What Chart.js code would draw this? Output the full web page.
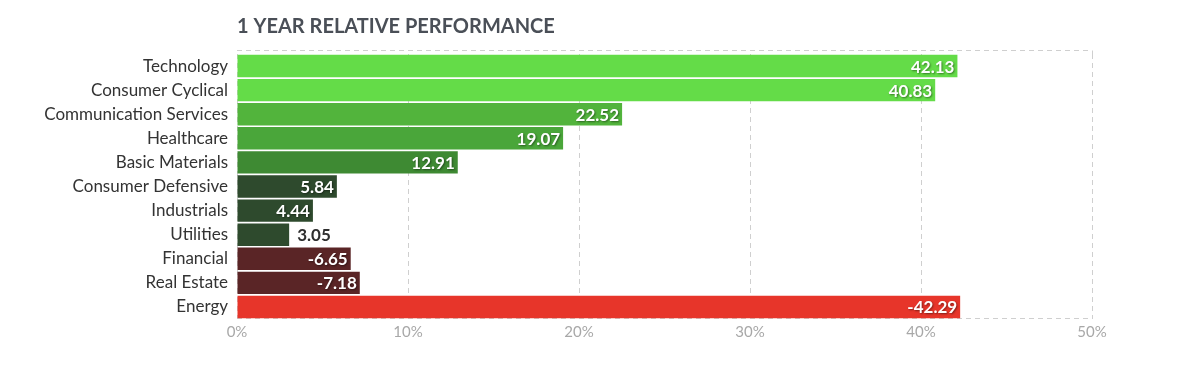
<!DOCTYPE html>
<html>
<head>
<meta charset="utf-8">
<script src="https://cdn.jsdelivr.net/npm/chart.js@4.4.1/dist/chart.umd.min.js"></script>
<style>
  html, body { margin: 0; padding: 0; background: #fff; }
  #wrap { width: 1200px; height: 366px; position: relative; }
</style>
</head>
<body>
<div id="wrap"><canvas id="perfChart"></canvas></div>
<script>
var sectors = ['Technology', 'Consumer Cyclical', 'Communication Services', 'Healthcare',
  'Basic Materials', 'Consumer Defensive', 'Industrials', 'Utilities', 'Financial',
  'Real Estate', 'Energy'];
var performance = [42.13, 40.83, 22.52, 19.07, 12.91, 5.84, 4.44, 3.05, -6.65, -7.18, -42.29];
var barColors = ['#64dc48', '#64dc48', '#52b43c', '#4aa63a', '#3e8a33', '#2e4a2d',
  '#2e4a2d', '#2e4a2d', '#5a2526', '#5a2526', '#e7352a'];
var xTicks = [0, 10, 20, 30, 40, 50];

var titleText = '1 YEAR RELATIVE PERFORMANCE';

// title over the plot's left edge, dashed top/bottom frame and the value labels
var extras = {
  id: 'extras',
  beforeDatasetsDraw: function(chart) {
    var ctx = chart.ctx, a = chart.chartArea;
    ctx.save();
    ctx.strokeStyle = '#cfcfcf';
    ctx.lineWidth = 1;
    ctx.setLineDash([5, 4]);
    ctx.beginPath();
    ctx.moveTo(a.left, Math.round(a.top) - 3.5);
    ctx.lineTo(a.right, Math.round(a.top) - 3.5);
    ctx.moveTo(a.right + 0.5, Math.round(a.top) - 3.5);
    ctx.lineTo(a.right + 0.5, a.top);
    ctx.moveTo(a.left, Math.round(a.bottom) - 0.5);
    ctx.lineTo(a.right, Math.round(a.bottom) - 0.5);
    ctx.stroke();
    ctx.restore();
  },
  afterDatasetsDraw: function(chart) {
    var ctx = chart.ctx, a = chart.chartArea;
    ctx.save();
    ctx.font = 'bold 20px Lato';
    ctx.fillStyle = '#4a4f57';
    ctx.textAlign = 'left';
    ctx.textBaseline = 'middle';
    ctx.fillText(titleText, a.left, 27);

    ctx.font = 'bold 17px Lato';
    var meta = chart.getDatasetMeta(0);
    meta.data.forEach(function(bar, i) {
      var label = performance[i].toFixed(2);
      var w = ctx.measureText(label).width;
      var barW = bar.x - bar.base;
      if (barW > w + 28) {
        ctx.textAlign = 'right';
        ctx.fillStyle = '#ffffff';
        ctx.shadowColor = 'rgba(0,0,0,0.45)';
        ctx.shadowBlur = 2;
        ctx.shadowOffsetX = 1;
        ctx.shadowOffsetY = 1;
        ctx.fillText(label, bar.x - 3, bar.y + 1);
      } else {
        ctx.textAlign = 'left';
        ctx.fillStyle = '#2f2f2f';
        ctx.shadowColor = 'transparent';
        ctx.fillText(label, bar.x + 8, bar.y + 1);
      }
    });
    ctx.restore();
  }
};

var ctx = document.getElementById('perfChart');

var perfChart = new Chart(ctx, {
  type: 'bar',
  data: {
    labels: sectors,
    datasets: [{
      data: performance.map(function(v) { return Math.abs(v); }),
      backgroundColor: barColors,
      borderWidth: 0,
      categoryPercentage: 1,
      barPercentage: 0.93
    }]
  },
  plugins: [extras],
  options: {
    indexAxis: 'y',
    responsive: true,
    maintainAspectRatio: false,
    animation: false,
    layout: { padding: { top: 54, right: 108, bottom: 23, left: 0 } },
    plugins: {
      legend: { display: false },
      tooltip: { enabled: false }
    },
    scales: {
      x: {
        min: 0,
        max: 50,
        afterBuildTicks: function(scale) {
          scale.ticks = xTicks.map(function(v) { return { value: v }; });
        },
        afterFit: function(scale) { scale.height = 24; },
        grid: {
          color: '#cfcfcf',
          drawTicks: false
        },
        border: { display: false },
        ticks: {
          padding: 4,
          color: '#a8a8a8',
          font: { family: 'Lato', size: 15 },
          callback: function(v) { return v + '%'; }
        }
      },
      y: {
        afterFit: function(scale) { scale.width = 237; },
        grid: { display: false, drawTicks: false },
        border: { display: false },
        ticks: {
          padding: 9,
          color: '#333333',
          font: { family: 'Lato', size: 17 }
        }
      }
    }
  }
});
// dashed x grid lines
perfChart.options.scales.x.grid.borderDash = [5, 4];
perfChart.options.scales.x.border.dash = [5, 4];
perfChart.update();
</script>
</body>
</html>
